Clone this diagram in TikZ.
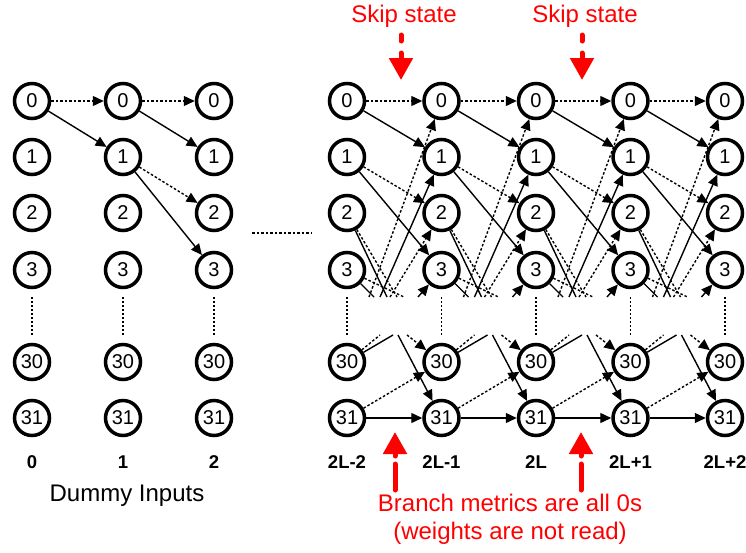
\documentclass[tikz,border=0pt]{standalone}
\usepackage{fontspec}
\setmainfont{Liberation Sans}
\usetikzlibrary{arrows.meta}
\begin{document}
\begin{tikzpicture}[x=1pt,y=-1pt,
  st/.style={circle, draw, line width=3.5pt, minimum size=35pt, inner sep=0pt, font=\fontsize{20}{20}\selectfont},
  ed/.style={line width=1.4pt},
  dt/.style={line width=1.4pt, dash pattern=on 2.5pt off 2pt},
  vd/.style={line width=1.3pt, dash pattern=on 2pt off 2pt},
  ar/.style={-{Triangle[length=11pt,width=10pt]}},
  lbl/.style={font=\bfseries\fontsize{18.5}{18.5}\selectfont},
  redtxt/.style={text=red, font=\fontsize{24}{28}\selectfont, align=center},
  redarr/.style={draw=red, line width=5pt, line cap=round, -{Triangle[length=22pt,width=23pt]}}
]
\useasboundingbox (0,0) rectangle (746,552);

% ---------- left (dummy inputs) ----------
\foreach \c/\x in {0/32, 1/123, 2/214} {
  \foreach \s/\y in {0/101,1/157,2/213,3/270,30/362,31/418}
    \node[st] (L\c-\s) at (\x,\y) {\s};
  \draw[vd] ([yshift=-7.5pt]L\c-3.south) -- ([yshift=7.5pt]L\c-30.north);
  \node[lbl] (Llab\c) at (\x,462) {\c};
}
\node[font=\fontsize{24}{24}\selectfont] (dummy) at (127,496) {Dummy Inputs};

\draw[dt,ar] (L0-0) -- (L1-0);
\draw[ed,ar] (L0-0) -- (L1-1);
\draw[dt,ar] (L1-0) -- (L2-0);
\draw[ed,ar] (L1-0) -- (L2-1);
\draw[dt,ar] (L1-1) -- (L2-2);
\draw[ed,ar] (L1-1) -- (L2-3);

% ---------- separator ----------
\coordinate (sepa) at (252,233);
\coordinate (sepb) at (312,233);
\draw[dt] (sepa) -- (sepb);

% ---------- right trellis ----------
\foreach \c/\t in {0/2L-2, 1/2L-1, 2/2L, 3/2L+1, 4/2L+2} {
  \pgfmathsetmacro\xx{347+94.5*\c}
  \foreach \s/\y in {0/101,1/157,2/213,3/270,30/362,31/418}
    \node[st] (R\c-\s) at (\xx,\y) {\s};
  \draw[vd] ([yshift=-7.5pt]R\c-3.south) -- ([yshift=7.5pt]R\c-30.north);
  \node[lbl] (Rlab\c) at (\xx,462) {\t};
}

\foreach \c in {0,1,2,3} {
  \pgfmathtruncatemacro\n{\c+1}
  \pgfmathsetmacro\xa{347+94.5*\c}
  % top gap edge points
  \coordinate (ta\c) at (\xa+50,297);
  \coordinate (tb\c) at (\xa+40,297);
  \coordinate (tc\c) at (\xa+57,297);
  \coordinate (td\c) at (\xa+27,297);
  \coordinate (te\c) at (\xa+22,297);
  \coordinate (tf\c) at (\xa+33,297);
  \coordinate (tg\c) at (\xa+43,297);
  \coordinate (th\c) at (\xa+71,297);
  % bottom gap edge points
  \coordinate (ba\c) at (\xa+33,335);
  \coordinate (bb\c) at (\xa+46,335);
  \coordinate (bc\c) at (\xa+51,335);
  \coordinate (bd\c) at (\xa+60,335);
  % full edges
  \draw[dt,ar] (R\c-0) -- (R\n-0);
  \draw[ed,ar] (R\c-0) -- (R\n-1);
  \draw[dt,ar] (R\c-1) -- (R\n-2);
  \draw[ed,ar] (R\c-1) -- (R\n-3);
  \draw[dt,ar] (R\c-31) -- (R\n-30);
  \draw[ed,ar] (R\c-31) -- (R\n-31);
  % edges into the gap
  \draw[dt] (R\c-2) -- (ta\c);
  \draw[ed] (R\c-2) -- (tb\c);
  \draw[dt] (R\c-3) -- (tc\c);
  \draw[ed] (R\c-3) -- (td\c);
  \draw[dt] (R\c-30) -- (ba\c);
  \draw[ed] (R\c-30) -- (bb\c);
  % edges out of the gap
  \draw[dt,ar] (te\c) -- (R\n-0);
  \draw[ed,ar] (tf\c) -- (R\n-1);
  \draw[dt,ar] (tg\c) -- (R\n-2);
  \draw[ed,ar] (th\c) -- (R\n-3);
  \draw[ed,ar] (bc\c) -- (R\n-31);
  \draw[dt,ar] (bd\c) -- (R\n-30);
}

% ---------- red annotations ----------
\node[redtxt] (skip1) at (404,16) {Skip state};
\node[redtxt] (skip2) at (585,16) {Skip state};
\coordinate (s1a) at (401,35);
\coordinate (s1b) at (401,80);
\coordinate (s2a) at (582,35);
\coordinate (s2b) at (582,80);
\draw[redarr, dash pattern=on 6pt off 12pt] (s1a) -- (s1b);
\draw[redarr, dash pattern=on 6pt off 12pt] (s2a) -- (s2b);

\node[redtxt] (branch) at (510,519) {Branch metrics are all 0s\\(weights are not read)};
\coordinate (b1a) at (395,490);
\coordinate (b1b) at (395,432);
\coordinate (b2a) at (581,490);
\coordinate (b2b) at (581,432);
\draw[redarr, dash pattern=on 26pt off 8pt] (b1a) -- (b1b);
\draw[redarr, dash pattern=on 26pt off 8pt] (b2a) -- (b2b);
\end{tikzpicture}
\end{document}
